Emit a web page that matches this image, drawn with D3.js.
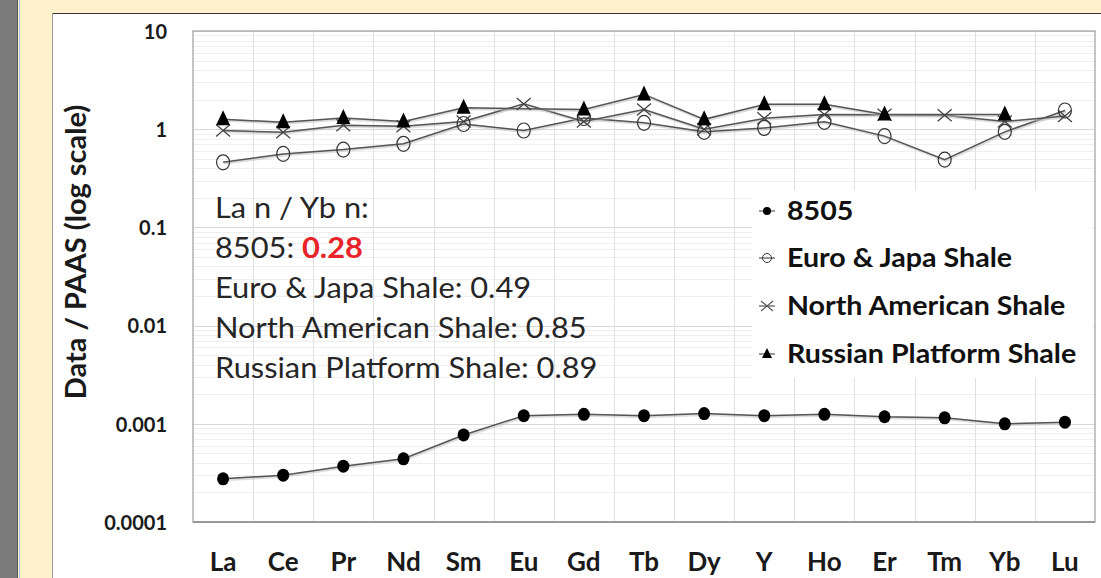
<!DOCTYPE html>
<html><head><meta charset="utf-8">
<script src="https://cdn.jsdelivr.net/npm/d3@7"></script>
<style>html,body{margin:0;padding:0;background:#fff;}svg{display:block;}</style>
</head><body>
<svg id="c" width="1101" height="578"></svg>
<script>
const categories = ["La","Ce","Pr","Nd","Sm","Eu","Gd","Tb","Dy","Y","Ho","Er","Tm","Yb","Lu"];
const s8505 = [0.000275,0.0003,0.00037,0.00044,0.00077,0.00121,0.00125,0.00121,0.00127,0.00121,0.00125,0.00118,0.00115,0.001,0.00104];
const sEuro = [0.46,0.56,0.62,0.71,1.13,0.97,1.30,1.16,0.94,1.03,1.19,0.85,0.49,0.94,1.55];
const sNorth = [0.97,0.93,1.10,1.07,1.20,1.81,1.20,1.59,1.00,1.29,1.41,1.40,1.39,1.20,1.36];
const sRussian = [1.26,1.18,1.30,1.20,1.65,null,1.59,2.26,1.26,1.79,1.79,1.41,null,1.41,null];
const yTicks = [10,1,0.1,0.01,0.001,0.0001];
const yTickLabels = ["10","1","0.1","0.01","0.001","0.0001"];
const seriesNames = ["8505","Euro & Japa Shale","North American Shale","Russian Platform Shale"];
const ratioLabel = "La n / Yb n:";
const ratios = ["0.28","0.49","0.85","0.89"];

const svg = d3.select("#c");
const F = "Lato, 'Open Sans', sans-serif";

// frame background
svg.append("rect").attr("x",0).attr("y",0).attr("width",1101).attr("height",578).attr("fill","#FFF2CC");
svg.append("rect").attr("x",0).attr("y",0).attr("width",17).attr("height",578).attr("fill","#7b7b7b");
svg.append("line").attr("x1",17.5).attr("x2",17.5).attr("y1",0).attr("y2",578).attr("stroke","#555").attr("stroke-width",1);
svg.append("line").attr("x1",19.5).attr("x2",19.5).attr("y1",0).attr("y2",578).attr("stroke","#9dc3e6").attr("stroke-width",1);
svg.append("rect").attr("x",52).attr("y",13).attr("width",1060).attr("height",570).attr("fill","#fff");
svg.append("line").attr("x1",52).attr("x2",1101).attr("y1",13.5).attr("y2",13.5).attr("stroke","#333");
svg.append("line").attr("x1",52.5).attr("x2",52.5).attr("y1",13).attr("y2",578).attr("stroke","#999");

const L=193, R=1095, T=31, B=522;
const x = d3.scaleBand().domain(categories).range([L,R]);
const cx = c => x(c) + x.bandwidth()/2;
const y = d3.scaleLog().domain([0.0001,10]).range([B,T]);

// minor grid
const minor = [];
for (let e=-4;e<1;e++) for (let m=2;m<10;m++) minor.push(m*Math.pow(10,e));
svg.append("g").selectAll("line").data(minor).join("line")
  .attr("x1",L).attr("x2",R).attr("y1",d=>Math.round(y(d))+0.5).attr("y2",d=>Math.round(y(d))+0.5)
  .attr("stroke","#efefef").attr("stroke-width",1);
// major grid
svg.append("g").selectAll("line").data(yTicks).join("line")
  .attr("x1",L).attr("x2",R).attr("y1",d=>Math.round(y(d))+0.5).attr("y2",d=>Math.round(y(d))+0.5)
  .attr("stroke","#d9d9d9").attr("stroke-width",1.2);
// vertical grid at category boundaries
svg.append("g").selectAll("line").data(categories.slice(1)).join("line")
  .attr("x1",d=>Math.round(x(d))+0.5).attr("x2",d=>Math.round(x(d))+0.5).attr("y1",T).attr("y2",B)
  .attr("stroke","#e0e0e0").attr("stroke-width",1);
// plot border
svg.append("rect").attr("x",L).attr("y",T).attr("width",R-L).attr("height",B-T)
  .attr("fill","none").attr("stroke","#a6a6a6").attr("stroke-width",1.3);
svg.append("line").attr("x1",L).attr("x2",R).attr("y1",B).attr("y2",B).attr("stroke","#8c8c8c").attr("stroke-width",1.5);

// axes labels
const yAxis = d3.axisLeft(y).tickValues(yTicks).tickFormat((d,i)=>yTickLabels[i]).tickSize(0).tickPadding(26);
const gy = svg.append("g").attr("transform",`translate(${L},0)`).call(yAxis);
gy.select(".domain").remove();
gy.selectAll("text").attr("font-family",F).attr("font-weight","bold").attr("font-size","20px").attr("fill","#1a1a1a")
  .attr("dy","0.36em");

const xAxis = d3.axisBottom(x).tickSize(0).tickPadding(31);
const gx = svg.append("g").attr("transform",`translate(0,${B})`).call(xAxis);
gx.select(".domain").remove();
gx.selectAll("text").attr("font-family",F).attr("font-weight","bold").attr("font-size","26px").attr("fill","#1a1a1a");

svg.append("text").attr("transform","translate(86,252) rotate(-90)").attr("text-anchor","middle")
  .attr("font-family",F).attr("font-weight","bold").attr("font-size","29px").attr("fill","#1a1a1a")
  .text("Data / PAAS (log scale)");

// lines
const line = d3.line().x(d=>cx(d.c)).y(d=>y(d.v));
function pts(arr){ return categories.map((c,i)=>({c, v:arr[i]})); }
function drawLine(arr){
  const p = pts(arr).filter(d=>d.v!=null);
  svg.append("path").datum(p).attr("d",line).attr("fill","none").attr("stroke","#bbb").attr("stroke-width",3).attr("opacity",0.5).attr("transform","translate(1,1)");
  svg.append("path").datum(p).attr("d",line).attr("fill","none").attr("stroke","#555").attr("stroke-width",1.5);
}
[sEuro, sNorth, sRussian, s8505].forEach(drawLine);

// markers
svg.append("g").selectAll("ellipse").data(pts(sEuro)).join("ellipse")
  .attr("cx",d=>cx(d.c)).attr("cy",d=>y(d.v)).attr("rx",6.5).attr("ry",7.5)
  .attr("fill","none").attr("stroke","#333").attr("stroke-width",1.2);
const xm = svg.append("g");
pts(sNorth).forEach(d=>{
  const X=cx(d.c), Y=y(d.v);
  xm.append("path").attr("d",`M${X-7},${Y-6}L${X+7},${Y+6}M${X-7},${Y+6}L${X+7},${Y-6}`)
    .attr("stroke","#444").attr("stroke-width",1.3).attr("fill","none");
});
svg.append("g").selectAll("path").data(pts(sRussian).filter(d=>d.v!=null)).join("path")
  .attr("d",d=>{const X=cx(d.c),Y=y(d.v);return `M${X},${Y-9}L${X+7},${Y+6}L${X-7},${Y+6}Z`;})
  .attr("fill","#000");
svg.append("g").selectAll("ellipse").data(pts(s8505)).join("ellipse")
  .attr("cx",d=>cx(d.c)).attr("cy",d=>y(d.v)).attr("rx",6).attr("ry",6.5)
  .attr("fill","#000");

// ratio text box
const tbg = svg.append("g").attr("transform","translate(215,0) scale(1.1,1)");
const tb = tbg.append("text").attr("font-family",F).attr("font-size","28px").attr("fill","#262626");
tb.append("tspan").attr("x",0).attr("y",218).text(ratioLabel);
seriesNames.forEach((n,i)=>{
  tb.append("tspan").attr("x",0).attr("y",258+40*i).text(n+": ");
  if(i===0){ tb.append("tspan").attr("fill","#e8232a").attr("font-weight","bold").text(ratios[i]); }
  else { tb.append("tspan").text(ratios[i]); }
});

// legend
svg.append("rect").attr("x",752).attr("y",190).attr("width",341).attr("height",188).attr("fill","#fff");
const lg = svg.append("g");
const rows = [211,258,306,354];
seriesNames.forEach((n,i)=>{
  const yy = rows[i], mx = 767;
  lg.append("line").attr("x1",mx-8).attr("x2",mx+8).attr("y1",yy).attr("y2",yy).attr("stroke","#555").attr("stroke-width",1.2);
  if(i===0) lg.append("circle").attr("cx",mx).attr("cy",yy).attr("r",4).attr("fill","#000");
  if(i===1) lg.append("circle").attr("cx",mx).attr("cy",yy).attr("r",4.5).attr("fill","none").attr("stroke","#333").attr("stroke-width",1);
  if(i===2) lg.append("path").attr("d",`M${mx-6},${yy-5}L${mx+6},${yy+5}M${mx-6},${yy+5}L${mx+6},${yy-5}`).attr("stroke","#555").attr("stroke-width",1.1);
  if(i===3) lg.append("path").attr("d",`M${mx},${yy-6}L${mx+5},${yy+4}L${mx-5},${yy+4}Z`).attr("fill","#000");
  lg.append("g").attr("transform",`translate(787,${yy+9}) scale(1.1,1)`)
    .append("text").attr("x",0).attr("y",0).attr("font-family",F).attr("font-weight","bold")
    .attr("font-size","26px").attr("fill","#111").text(n);
});
</script>
</body></html>
